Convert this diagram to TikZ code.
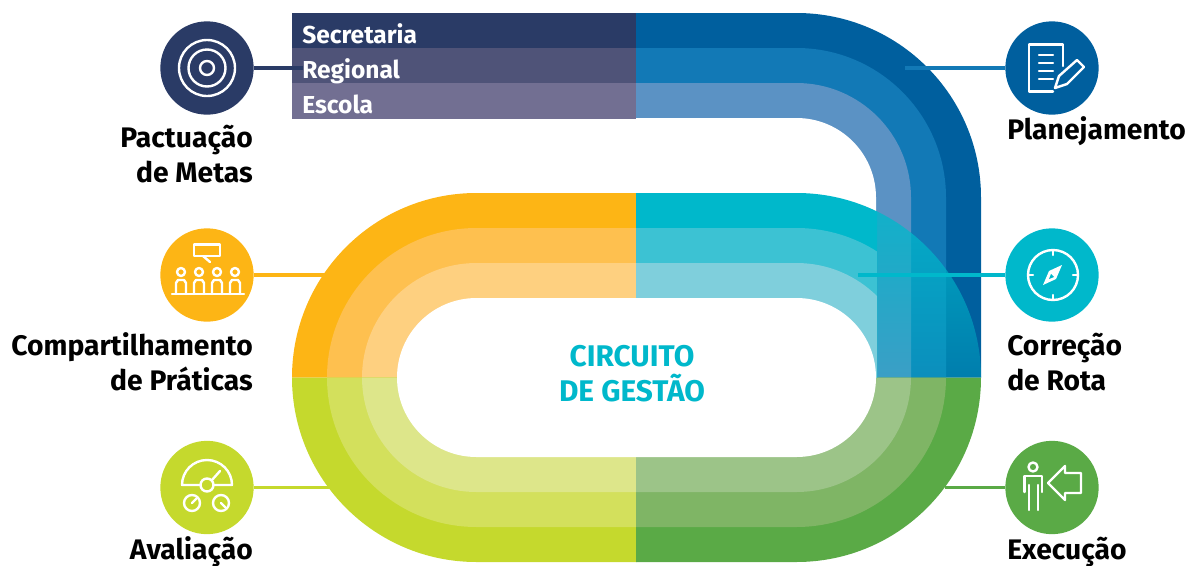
\documentclass[tikz,border=0pt]{standalone}
\usepackage{fontspec}
\setmainfont{Fira Sans}
\usetikzlibrary{fadings}

\definecolor{navyA}{HTML}{2A3B66}
\definecolor{navyB}{HTML}{4F5378}
\definecolor{navyC}{HTML}{726F92}
\definecolor{blueA}{HTML}{005F9E}
\definecolor{blueB}{HTML}{1279B6}
\definecolor{blueC}{HTML}{5B92C4}
\definecolor{tealA}{HTML}{00B8CB}
\definecolor{tealB}{HTML}{3CC2D3}
\definecolor{tealC}{HTML}{7FCFDC}
\definecolor{orangeA}{HTML}{FDB515}
\definecolor{orangeB}{HTML}{FEC04F}
\definecolor{orangeC}{HTML}{FED080}
\definecolor{limeA}{HTML}{C5D92D}
\definecolor{limeB}{HTML}{D3E05C}
\definecolor{limeC}{HTML}{DDE68A}
\definecolor{greenA}{HTML}{5AAA46}
\definecolor{greenB}{HTML}{7FB565}
\definecolor{greenC}{HTML}{9CC488}

\tikzfading[name=tealfade, top color=transparent!15, bottom color=transparent!65]

\tikzset{
  stagecircle/.style={circle, minimum size=70pt, inner sep=0pt, fill=#1},
  leader/.style={line width=2.4pt, draw=#1},
  icon/.style={draw=white, line width=1.8pt, line join=round, line cap=round},
  stagelabel/.style={font=\bfseries\fontsize{21.2}{21.2}\selectfont, text=black, inner sep=0pt},
  barlabel/.style={font=\bfseries\fontsize{18.4}{18.4}\selectfont, text=white, anchor=base west, inner sep=0pt},
  titlelabel/.style={font=\bfseries\fontsize{22.4}{22.4}\selectfont, text=tealA, anchor=base, inner sep=0pt}
}

\begin{document}
\begin{tikzpicture}[x=0.75pt,y=0.75pt,yscale=-1,xscale=1]
\useasboundingbox (0,0) rectangle (1197,565);

%Blue track
\foreach \r/\c in {184.5/blueA,149.5/blueB,114.5/blueC,79.5/white}
  \fill[\c] (636,197.5-\r) -- (796.5,197.5-\r) arc[start angle=-90, end angle=0, radius=\r] -- (796.5+\r,377.5) -- (636,377.5) -- cycle;
\fill[navyA] (292,13) rectangle (636,48);
\fill[navyB] (292,48) rectangle (636,83);
\fill[navyC] (292,83) rectangle (636,118.5);

%Circuit quadrants
\foreach \r/\c in {184.5/orangeA,149.5/orangeB,114.5/orangeC}
  \fill[\c] (636.5,377.5) -- (476.5-\r,377.5) arc[start angle=180, end angle=270, radius=\r] -- (636.5,377.5-\r) -- cycle;
\foreach \r/\c in {184.5/limeA,149.5/limeB,114.5/limeC}
  \fill[\c] (636.5,377.5) -- (476.5-\r,377.5) arc[start angle=180, end angle=90, radius=\r] -- (636.5,377.5+\r) -- cycle;
\foreach \r/\c in {184.5/greenA,149.5/greenB,114.5/greenC}
  \fill[\c] (636,377.5) -- (796.5+\r,377.5) arc[start angle=0, end angle=90, radius=\r] -- (636,377.5+\r) -- cycle;
\begin{scope}
  \clip (636,150) rectangle (877,377.5);
  \foreach \r/\c in {184.5/tealA,149.5/tealB,114.5/tealC}
    \fill[\c] (636,377.5) -- (636,377.5-\r) -- (796.5,377.5-\r) arc[start angle=-90, end angle=0, radius=\r] -- cycle;
\end{scope}
%Teal over the blue columns
\begin{scope}
  \clip (877,150) rectangle (981,377.5);
  \fill[tealA, path fading=tealfade] (796.5,377.5) -- (796.5,193) arc[start angle=-90, end angle=0, radius=184.5] -- cycle;
\end{scope}
%Inner white
\begin{scope}
  \clip (390,290) rectangle (877,465);
  \fill[white] (476.5,298) -- (796.5,298) arc[start angle=-90, end angle=90, radius=79.5] -- (476.5,457) arc[start angle=90, end angle=270, radius=79.5] -- cycle;
\end{scope}

%Stages
\node[stagecircle=navyA] (metas) at (207,68) {};
\node[stagecircle=orangeA] (praticas) at (207,275) {};
\node[stagecircle=limeA] (avaliacao) at (207,487.5) {};
\node[stagecircle=blueA] (planejamento) at (1052,68) {};
\node[stagecircle=tealA] (rota) at (1052,275) {};
\node[stagecircle=greenA] (execucao) at (1052,487.5) {};

%Leaders
\coordinate (metasend) at (303,68);
\coordinate (praticasend) at (325,275);
\coordinate (avaliacaoend) at (330,487.5);
\coordinate (planejamentoend) at (905,68);
\coordinate (rotaend) at (858,275);
\coordinate (execucaoend) at (945,487.5);
\draw[leader=navyA] (metas) -- (metasend);
\draw[leader=orangeA] (praticas) -- (praticasend);
\draw[leader=limeA] (avaliacao) -- (avaliacaoend);
\draw[leader=blueB] (planejamento) -- (planejamentoend);
\draw[leader=tealA] (rota) -- (rotaend);
\draw[leader=greenA] (execucao) -- (execucaoend);

%Target icon
\draw[icon] (207,68) circle [radius=28];
\draw[icon] (207,68) circle [radius=18.5];
\draw[icon] (207,68) circle [radius=7];

%Audience icon
\draw[icon] (194,244.5) rectangle (220,256);
\draw[icon] (203,256) -- (210,262);
\foreach \x in {181,199,217,235} {
  \draw[icon] (\x,272) circle [radius=4];
  \draw[icon] (\x-5,294) -- (\x-5,283) -- (\x-3,280) -- (\x+3,280) -- (\x+5,283) -- (\x+5,294);
}
\draw[icon] (172,294) -- (244,294);

%Gauge icon
\draw[icon] (200,485) -- (182,485) arc[start angle=180, end angle=360, radius=25] -- (214,485);
\draw[icon] (207,485) circle [radius=6.5];
\draw[icon] (212,480) -- (220,471);
\draw[icon] (192,503) circle [radius=8];
\draw[icon] (221,503) circle [radius=8];
\draw[icon] (192,503) -- (196,499);
\draw[icon] (221,503) -- (225,507);

%Document icon
\draw[icon] (1063,66) -- (1063,44.5) -- (1029,44.5) -- (1029,91.5) -- (1053,91.5);
\foreach \y in {55,63,71,79}
  \draw[icon] (1039,\y) -- (1053,\y);
\draw[icon] (1055,88) -- (1059,76) -- (1077,60) -- (1084,67) -- (1067,84) -- cycle;

%Compass icon
\draw[icon] (1053,275) circle [radius=25];
\draw[icon] (1053,250) -- (1053,255);
\draw[icon] (1053,295) -- (1053,300);
\draw[icon] (1028,275) -- (1033,275);
\draw[icon] (1073,275) -- (1078,275);
\fill[white] (1062,265) -- (1056,279) -- (1043,285) -- (1049,271) -- cycle;
\fill[tealA] (1049,279) -- (1051,274) -- (1054,277) -- cycle;

%Person and arrow icon
\draw[icon] (1033,467) circle [radius=4.5];
\draw[icon] (1024.5,492) -- (1024.5,476) -- (1042,476) -- (1042,492);
\draw[icon] (1029,485) -- (1029,510);
\draw[icon] (1038,485) -- (1038,510);
\draw[icon] (1048,483) -- (1065,466) -- (1065,473) -- (1081,473) -- (1081,493) -- (1065,493) -- (1065,500) -- cycle;

% Text Node
\node[barlabel] (secretaria) at (302,43) {Secretaria};
\node[barlabel] (regional) at (302,78) {Regional};
\node[barlabel] (escola) at (302,113) {Escola};
\node[titlelabel] (circuito) at (632,366) {CIRCUITO};
\node[titlelabel] (gestao) at (632,401) {DE GESTÃO};
\node[stagelabel, anchor=base east] (pactuacaotxt) at (253,147) {Pactuação};
\node[stagelabel, anchor=base east] (metastxt) at (253,182) {de Metas};
\node[stagelabel, anchor=base east] (compartilhamentotxt) at (253,355) {Compartilhamento};
\node[stagelabel, anchor=base east] (praticastxt) at (253,390) {de Práticas};
\node[stagelabel, anchor=base east] (avaliacaotxt) at (253,559) {Avaliação};
\node[stagelabel, anchor=base west] (planejamentotxt) at (1007,139) {Planejamento};
\node[stagelabel, anchor=base west] (correcaotxt) at (1007,355) {Correção};
\node[stagelabel, anchor=base west] (rotatxt) at (1007,390) {de Rota};
\node[stagelabel, anchor=base west] (execucaotxt) at (1007,559) {Execução};
\end{tikzpicture}
\end{document}
